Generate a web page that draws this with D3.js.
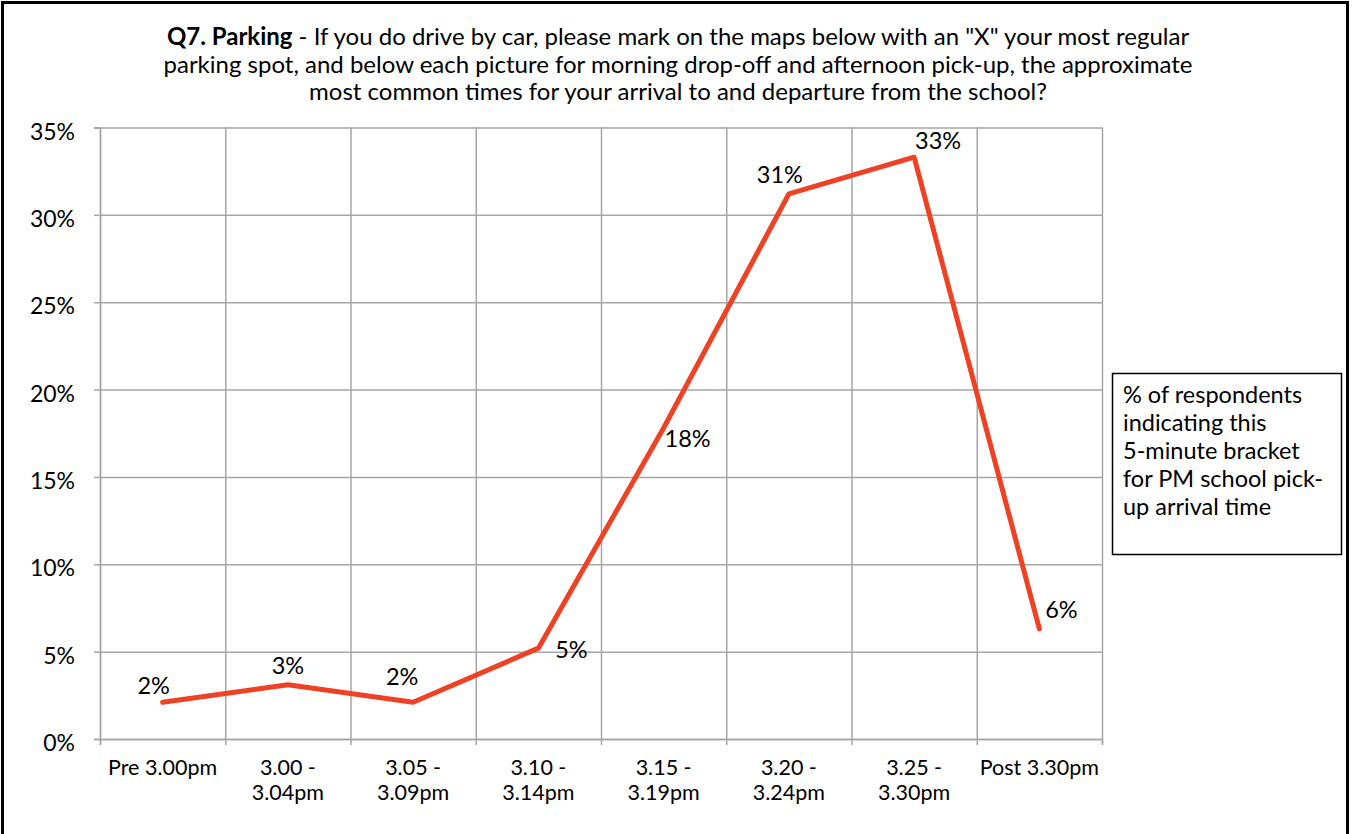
<!DOCTYPE html>
<html>
<head>
<meta charset="utf-8">
<script src="https://cdn.jsdelivr.net/npm/d3@7"></script>
<style>
  html, body { margin: 0; padding: 0; background: #fff; }
  svg { display: block; font-family: Lato, "Open Sans", sans-serif; }
  .grid line { stroke: #a6a6a6; stroke-width: 1.5px; }
  .grid path { display: none; }
  .axis path, .axis line { stroke: #a6a6a6; stroke-width: 1.5px; }
  .axis text { fill: #000; font-family: Lato, "Open Sans", sans-serif; }
</style>
</head>
<body>
<div id="chart"></div>
<script>
// Categories (5-minute brackets) and share of respondents
const categories = [
  ['Pre 3.00pm'], ['3.00 -', '3.04pm'], ['3.05 -', '3.09pm'], ['3.10 -', '3.14pm'],
  ['3.15 -', '3.19pm'], ['3.20 -', '3.24pm'], ['3.25 -', '3.30pm'], ['Post 3.30pm']
];
const values = [0.021, 0.031, 0.021, 0.052, 0.178, 0.312, 0.333, 0.063];
const valueLabels = ['2%', '3%', '2%', '5%', '18%', '31%', '33%', '6%'];
const yTicks = [0, 0.05, 0.10, 0.15, 0.20, 0.25, 0.30, 0.35];

const titleLines = [
  'If you do drive by car, please mark on the maps below with an "X" your most regular',
  'parking spot, and below each picture for morning drop-off and afternoon pick-up, the approximate',
  'most common times for your arrival to and departure from the school?'
];
const legendLines = ['% of respondents', 'indicating this', '5-minute bracket', 'for PM school pick-', 'up arrival time'];

// where each data label sits relative to its point (manually placed in the original)
const labelOffsets = [[-9, -8], [0, -11], [-11, -17], [33, 10], [24, 19], [-9, -11], [24, -8], [22, -11]];

const width = 1353, height = 834;
const margin = { top: 127.5, right: 251, bottom: 95, left: 100 };
const plotW = width - margin.left - margin.right;
const plotH = height - margin.top - margin.bottom;

const svg = d3.select('#chart').append('svg')
  .attr('width', width)
  .attr('height', height);

// outer frame
svg.append('rect')
  .attr('x', 2.5).attr('y', 2.5)
  .attr('width', 1345).attr('height', 850)
  .attr('fill', 'none')
  .attr('stroke', '#000')
  .attr('stroke-width', 3);

// title
const title = svg.append('text')
  .attr('text-anchor', 'middle')
  .style('font-size', '24px')
  .attr('fill', '#000');
titleLines.forEach((line, i) => {
  const t = title.append('tspan').attr('x', 678).attr('y', 45 + i * 27.5);
  if (i === 0) {
    t.append('tspan').style('font-weight', 'bold').text('Q7. Parking');
    t.append('tspan').text(' - ' + line);
  } else {
    t.text(line);
  }
});

const g = svg.append('g').attr('transform', `translate(${margin.left},${margin.top})`);

const x = d3.scaleBand()
  .domain(d3.range(categories.length))
  .range([0, plotW])
  .paddingInner(0).paddingOuter(0);

// band edges for gridlines / ticks
const xEdge = d3.scaleLinear().domain([0, categories.length]).range([0, plotW]);

const y = d3.scaleLinear().domain([0, 0.35]).range([plotH, 0]);

// horizontal gridlines
g.append('g').attr('class', 'grid')
  .call(d3.axisLeft(y).tickValues(yTicks).tickSize(-plotW).tickFormat(''));

// vertical gridlines
g.append('g').attr('class', 'grid')
  .call(d3.axisBottom(xEdge).ticks(categories.length).tickSize(plotH).tickFormat(''));

// y axis
g.append('g').attr('class', 'axis')
  .call(d3.axisLeft(y).tickValues(yTicks).tickSize(6).tickPadding(19).tickFormat(d3.format('.0%')))
  .call(a => a.selectAll('text').style('font-size', '23px').attr('dy', '0.5em'));

// x axis (ticks at band edges)
g.append('g').attr('class', 'axis')
  .attr('transform', `translate(0,${plotH})`)
  .call(d3.axisBottom(xEdge).ticks(categories.length).tickSize(6).tickFormat(''));

// x category labels
const xl = g.append('g');
categories.forEach((lines, i) => {
  const t = xl.append('text')
    .attr('text-anchor', 'middle')
    .style('font-size', '21.5px')
    .attr('fill', '#000');
  lines.forEach((s, j) => {
    t.append('tspan')
      .attr('x', x(i) + x.bandwidth() / 2)
      .attr('y', plotH + 36 + j * 25)
      .text(s);
  });
});

// line
const line = d3.line()
  .x((d, i) => x(i) + x.bandwidth() / 2)
  .y(d => y(d));

g.append('path')
  .datum(values)
  .attr('fill', 'none')
  .attr('stroke', '#ef4123')
  .attr('stroke-width', 5)
  .attr('stroke-linejoin', 'round')
  .attr('stroke-linecap', 'round')
  .attr('d', line);

// data labels
g.selectAll('.dlabel')
  .data(values)
  .join('text')
  .attr('class', 'dlabel')
  .attr('text-anchor', 'middle')
  .attr('x', (d, i) => x(i) + x.bandwidth() / 2 + labelOffsets[i][0])
  .attr('y', (d, i) => y(d) + labelOffsets[i][1])
  .style('font-size', '23.5px')
  .attr('fill', '#000')
  .text((d, i) => valueLabels[i]);

// legend box
svg.append('rect')
  .attr('x', 1112.5).attr('y', 373.5)
  .attr('width', 229).attr('height', 181)
  .attr('fill', '#fff')
  .attr('stroke', '#000')
  .attr('stroke-width', 1.5);

const lt = svg.append('text')
  .style('font-size', '23.5px')
  .attr('fill', '#000');
legendLines.forEach((s, i) => {
  lt.append('tspan').attr('x', 1123).attr('y', 403 + i * 28).text(s);
});
</script>
</body>
</html>
